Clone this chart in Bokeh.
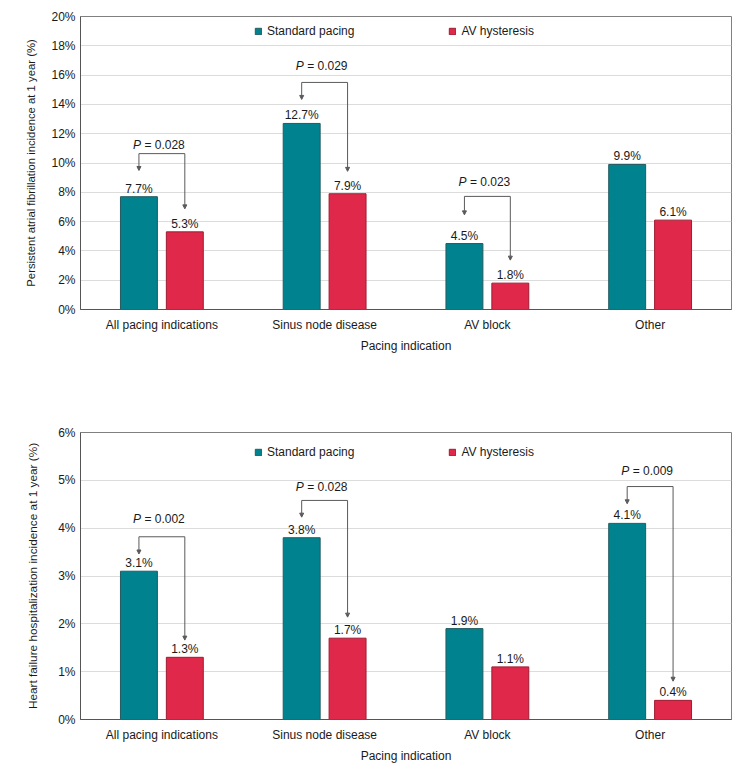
from bokeh.plotting import figure
from bokeh.models import (ColumnDataSource, FixedTicker, Range1d, Legend, LegendItem,
                          Arrow, NormalHead, PrintfTickFormatter)
from bokeh.transform import dodge
from bokeh.layouts import column
from bokeh.embed import file_html
from bokeh.resources import INLINE
from bokeh.core.properties import value

# ---------------- data ----------------
categories = ["All pacing indications", "Sinus node disease", "AV block", "Other"]
series_names = ["Standard pacing", "AV hysteresis"]

af_standard = [7.7, 12.7, 4.5, 9.9]
af_hysteresis = [5.3, 7.9, 1.8, 6.1]
af_ticks = [0, 2, 4, 6, 8, 10, 12, 14, 16, 18, 20]

hf_standard = [3.1, 3.8, 1.9, 4.1]
hf_hysteresis = [1.3, 1.7, 1.1, 0.4]
hf_ticks = [0, 1, 2, 3, 4, 5, 6]

# P-value brackets: category index, p value, text level, bracket level, arrow ends
af_p_cat = [0, 1, 2]
af_p_value = ["0.028", "0.029", "0.023"]
af_p_text_y = [11.2, 16.65, 8.67]
af_p_line_y = [10.64, 15.5, 7.72]
af_p_left_end = [9.49, 14.34, 6.46]
af_p_right_end = [6.87, 9.43, 3.37]

hf_p_cat = [0, 1, 3]
hf_p_value = ["0.002", "0.028", "0.009"]
hf_p_text_y = [4.19, 4.86, 5.2]
hf_p_line_y = [3.82, 4.58, 4.87]
hf_p_left_end = [3.46, 4.23, 4.51]
hf_p_right_end = [1.66, 2.14, 0.80]

y_label_af = "Persistent atrial fibrillation incidence at 1 year (%)"
y_label_hf = "Heart failure hospitalization incidence at 1 year (%)"
x_label = "Pacing indication"

# ---------------- style ----------------
FONT = "Liberation Sans"
TXT = "#1a1a1a"
TEAL = "#00838f"
TEAL_LINE = "#245a60"
RED = "#e0284a"
RED_LINE = "#9e1c31"
BR = "#5a5a5a"
OFF = 0.141
BW = 0.227


def make_chart(std, hyst, ticks, ylabel, pc, pv, pty, ply, ple, pre,
               height, border_top, legend_y, ylab_standoff, ylab_size):
    p = figure(width=742, height=height, output_backend="svg", toolbar_location=None,
               x_range=Range1d(0, len(categories)), y_range=Range1d(ticks[0], ticks[-1]),
               min_border_left=80, min_border_right=11, min_border_top=border_top,
               min_border_bottom=42)
    p.background_fill_color = "white"
    p.border_fill_color = "white"
    p.outline_line_color = "#808080"

    xs = [i + 0.5 for i in range(len(categories))]
    src = ColumnDataSource(dict(
        x=xs, std=std, hyst=hyst,
        std_lab=[f"{v}%" for v in std], hyst_lab=[f"{v}%" for v in hyst]))

    r1 = p.vbar(x=dodge("x", -OFF), top="std", width=BW, source=src,
                fill_color=TEAL, line_color=TEAL_LINE, line_width=1)
    r2 = p.vbar(x=dodge("x", OFF), top="hyst", width=BW, source=src,
                fill_color=RED, line_color=RED_LINE, line_width=1)

    p.text(x=dodge("x", -OFF), y="std", text="std_lab", source=src,
           text_font=value(FONT), text_font_size="12px", text_color=TXT,
           text_align="center", text_baseline="bottom", y_offset=-1)
    p.text(x=dodge("x", OFF), y="hyst", text="hyst_lab", source=src,
           text_font=value(FONT), text_font_size="12px", text_color=TXT,
           text_align="center", text_baseline="bottom", y_offset=-1)

    # brackets
    cx = [xs[c] for c in pc]
    lx = [xs[c] - OFF for c in pc]
    rx = [xs[c] + OFF for c in pc]
    bsrc = ColumnDataSource(dict(cx=cx, lx=lx, rx=rx, ty=pty, ly=ply, le=ple, re=pre,
                                 P=["P"] * len(pc), rest=[f"= {v}" for v in pv]))
    p.segment(x0="lx", y0="ly", x1="rx", y1="ly", source=bsrc, line_color=BR, line_width=1)
    p.add_layout(Arrow(end=NormalHead(size=4, line_color=BR, fill_color=BR, line_width=1),
                       x_start="lx", y_start="ly", x_end="lx", y_end="le", source=bsrc,
                       line_color=BR, line_width=1))
    p.add_layout(Arrow(end=NormalHead(size=4, line_color=BR, fill_color=BR, line_width=1),
                       x_start="rx", y_start="ly", x_end="rx", y_end="re", source=bsrc,
                       line_color=BR, line_width=1))
    p.text(x="cx", y="ty", text="P", source=bsrc, text_font=value(FONT),
           text_font_style="italic", text_font_size="12px", text_color=TXT,
           text_align="left", text_baseline="middle", x_offset=-29)
    p.text(x="cx", y="ty", text="rest", source=bsrc, text_font=value(FONT),
           text_font_size="12px", text_color=TXT,
           text_align="left", text_baseline="middle", x_offset=-17.5)

    # axes
    p.xaxis.ticker = FixedTicker(ticks=xs)
    p.xaxis.major_label_overrides = {x: c for x, c in zip(xs, categories)}
    p.yaxis.ticker = FixedTicker(ticks=ticks)
    p.yaxis.formatter = PrintfTickFormatter(format="%d%%")
    for ax in (p.xaxis[0], p.yaxis[0]):
        ax.major_tick_line_color = None
        ax.minor_tick_line_color = None
        ax.major_tick_out = 0
        ax.major_tick_in = 0
        ax.axis_line_color = "#555555"
        ax.major_label_text_font = FONT
        ax.major_label_text_font_size = "12px"
        ax.major_label_text_color = TXT
        ax.axis_label_text_font = FONT
        ax.axis_label_text_font_style = "normal"
        ax.axis_label_text_color = TXT
    p.xaxis.axis_label = x_label
    p.xaxis.axis_label_text_font_size = "12px"
    p.xaxis.major_label_standoff = 8
    p.xaxis.axis_label_standoff = 4
    p.yaxis.axis_label = ylabel
    p.yaxis.axis_label_text_font_size = ylab_size
    p.yaxis.major_label_standoff = 5
    p.yaxis.axis_label_standoff = ylab_standoff

    p.xgrid.grid_line_color = None
    p.ygrid.grid_line_color = "#dcdcdc"
    p.ygrid.grid_line_width = 1

    legend = Legend(items=[LegendItem(label=series_names[0], renderers=[r1]),
                           LegendItem(label=series_names[1], renderers=[r2])],
                    orientation="horizontal", location=(174, legend_y),
                    glyph_width=8, glyph_height=8, label_standoff=5, spacing=94,
                    padding=0, margin=0, border_line_alpha=0, background_fill_alpha=0,
                    label_text_font=FONT, label_text_font_size="12px",
                    label_text_color=TXT, label_height=12)
    p.add_layout(legend)
    return p


p1 = make_chart(af_standard, af_hysteresis, af_ticks, y_label_af,
                af_p_cat, af_p_value, af_p_text_y, af_p_line_y, af_p_left_end, af_p_right_end,
                height=355, border_top=16, legend_y=271, ylab_standoff=11, ylab_size="11.3px")
p2 = make_chart(hf_standard, hf_hysteresis, hf_ticks, y_label_hf,
                hf_p_cat, hf_p_value, hf_p_text_y, hf_p_line_y, hf_p_left_end, hf_p_right_end,
                height=410, border_top=77, legend_y=260, ylab_standoff=15, ylab_size="11.8px")

layout = column(p1, p2, spacing=0)
open("out.html", "w").write(file_html(layout, INLINE))
